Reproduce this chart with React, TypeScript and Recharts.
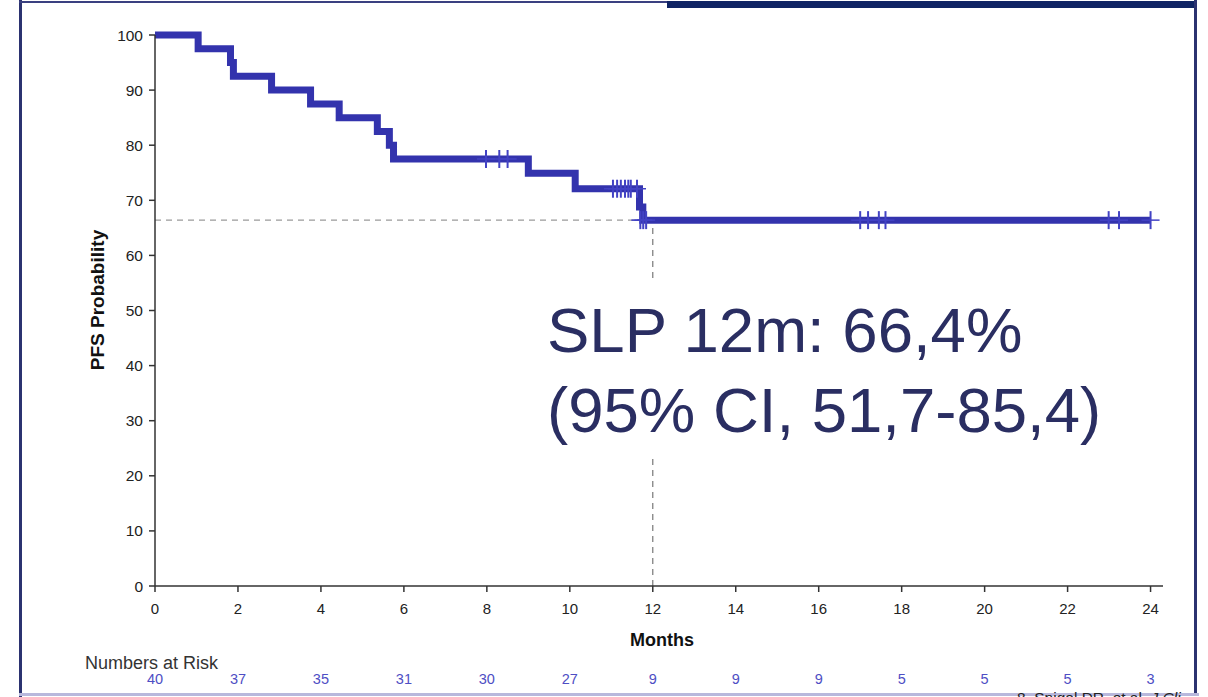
import React from 'react';
import {
  ComposedChart,
  Line,
  Scatter,
  XAxis,
  YAxis,
  ReferenceLine,
} from 'recharts';

// ---- Data ----
const eventTimes = [0, 1.04, 1.82, 1.89, 2.81, 3.75, 4.44, 5.36, 5.65, 5.75, 9.0, 10.13, 11.68, 11.76, 24.0];
const survival = [100, 97.5, 95.0, 92.5, 90.0, 87.5, 85.0, 82.5, 80.0, 77.5, 74.9, 72.1, 68.8, 66.4, 66.4];

const censorTimes = [7.98, 8.3, 8.5, 11.04, 11.14, 11.23, 11.33, 11.41, 11.47, 11.62, 11.7, 11.77, 11.84, 17.0, 17.19, 17.45, 17.61, 22.99, 23.24, 24.0];
const censorLevels = [77.5, 77.5, 77.5, 72.1, 72.1, 72.1, 72.1, 72.1, 72.1, 72.1, 66.4, 66.4, 66.4, 66.4, 66.4, 66.4, 66.4, 66.4, 66.4, 66.4];

const xTicks = [0, 2, 4, 6, 8, 10, 12, 14, 16, 18, 20, 22, 24];
const yTicks = [0, 10, 20, 30, 40, 50, 60, 70, 80, 90, 100];
const riskCounts = [40, 37, 35, 31, 30, 27, 9, 9, 9, 5, 5, 5, 3];

const landmarkTime = 12;
const landmarkValue = 66.4;

const annotationLine1 = 'SLP 12m: 66,4%';
const annotationLine2 = '(95% CI, 51,7-85,4)';

// ---- Derived tables ----
const curveData = eventTimes.map((t, i) => ({ t, s: survival[i] }));
const censorData = censorTimes.map((t, i) => ({ t, s: censorLevels[i] }));

const FONT = '"Liberation Sans", Arial, Helvetica, sans-serif';
const CURVE = '#3333AD';

const XTick = (props: any) => {
  const { x, y, payload } = props;
  const i = xTicks.indexOf(payload.value);
  return (
    <g>
      <text x={x} y={y} dy="0.71em" textAnchor="middle" fontSize={15} fill="#222" fontFamily={FONT}>
        {payload.value}
      </text>
      <text x={x} y={684} textAnchor="middle" fontSize={14.5} fill="#4E4EC4" fontFamily={FONT}>
        {i >= 0 ? riskCounts[i] : ''}
      </text>
    </g>
  );
};

const CensorMark = (props: any) => {
  const { cx, cy } = props;
  if (cx == null || cy == null) return null;
  return (
    <g>
      <line x1={cx} y1={cy - 9} x2={cx} y2={cy + 9} stroke="#4242C4" strokeWidth={2} />
      <line x1={cx - 9} y1={cy} x2={cx + 9} y2={cy} stroke="#4242C4" strokeWidth={1.5} />
    </g>
  );
};

export default function App() {
  return (
    <div style={{ position: 'absolute', left: 0, top: 0, width: 1208, height: 697, background: '#fff', overflow: 'hidden' }}>
      <ComposedChart
        width={1208}
        height={697}
        margin={{ top: 35, right: 45, bottom: 81, left: 95 }}
      >
        <XAxis
          dataKey="t"
          type="number"
          domain={[0, 24.3]}
          ticks={xTicks}
          allowDataOverflow
          interval={0}
          tickSize={6}
          tickMargin={11}
          height={30}
          axisLine={{ stroke: '#333', strokeWidth: 1.5 }}
          tickLine={{ stroke: '#333', strokeWidth: 1.5 }}
          tick={<XTick />}
        />
        <YAxis
          dataKey="s"
          type="number"
          domain={[0, 100]}
          ticks={yTicks}
          interval={0}
          width={60}
          tickSize={6}
          tickMargin={6}
          axisLine={{ stroke: '#333', strokeWidth: 1.5 }}
          tickLine={{ stroke: '#333', strokeWidth: 1.5 }}
          tick={{ fontSize: 15.5, fill: '#222', fontFamily: FONT }}
        />
        <ReferenceLine
          segment={[{ x: 0, y: landmarkValue }, { x: landmarkTime, y: landmarkValue }]}
          stroke="#9a9a9a"
          strokeWidth={1.2}
          strokeDasharray="6 5"
        />
        <ReferenceLine
          segment={[{ x: landmarkTime, y: 0 }, { x: landmarkTime, y: landmarkValue }]}
          stroke="#777"
          strokeWidth={1.2}
          strokeDasharray="6 5"
        />
        <Line
          data={curveData}
          dataKey="s"
          type="stepAfter"
          stroke={CURVE}
          strokeWidth={7}
          dot={false}
          activeDot={false}
          isAnimationActive={false}
          strokeLinejoin="miter"
          strokeLinecap="butt"
        />
        <Scatter
          data={censorData}
          dataKey="s"
          shape={<CensorMark />}
          isAnimationActive={false}
        />
      </ComposedChart>

      <svg
        width={1208}
        height={697}
        style={{ position: 'absolute', left: 0, top: 0, pointerEvents: 'none' }}
      >
        <defs>
          <clipPath id="footerClip">
            <rect x={0} y={0} width={1194} height={697} />
          </clipPath>
        </defs>

        {/* frame */}
        <rect x={19} y={0} width={3} height={697} fill="#2B3270" />
        <rect x={19} y={1} width={650} height={2} fill="#3A4080" />
        <rect x={667} y={1} width={530} height={7} fill="#0F2464" />
        <rect x={1194} y={0} width={3} height={694} fill="#2B3270" />
        <rect x={19} y={693} width={1180} height={3} fill="#B8B8DC" />

        {/* footer (cut off by the page edge, as in the source slide) */}
        <text x={1017} y={703} fontSize={15.5} fill="#222" fontFamily={FONT} clipPath="url(#footerClip)">
          8. Spigel DR, et al. <tspan fontStyle="italic">J Cli</tspan>
        </text>

        {/* axis titles */}
        <text
          x={104}
          y={300}
          transform="rotate(-90, 104, 300)"
          textAnchor="middle"
          fontSize={19}
          fontWeight="bold"
          fill="#111"
          fontFamily={FONT}
        >
          PFS Probability
        </text>
        <text x={662} y={646} textAnchor="middle" fontSize={18} fontWeight="bold" fill="#111" fontFamily={FONT}>
          Months
        </text>
        <text x={85} y={669} fontSize={18} fill="#333" fontFamily={FONT}>
          Numbers at Risk
        </text>

        {/* annotation */}
        <rect x={540} y={282} width={575} height={172} fill="#fff" />
        <text x={547} y={352} fontSize={63.5} fill="#2A2E62" fontFamily={FONT}>
          {annotationLine1}
        </text>
        <text x={547} y={432} fontSize={63.5} fill="#2A2E62" fontFamily={FONT}>
          {annotationLine2}
        </text>
      </svg>
    </div>
  );
}
